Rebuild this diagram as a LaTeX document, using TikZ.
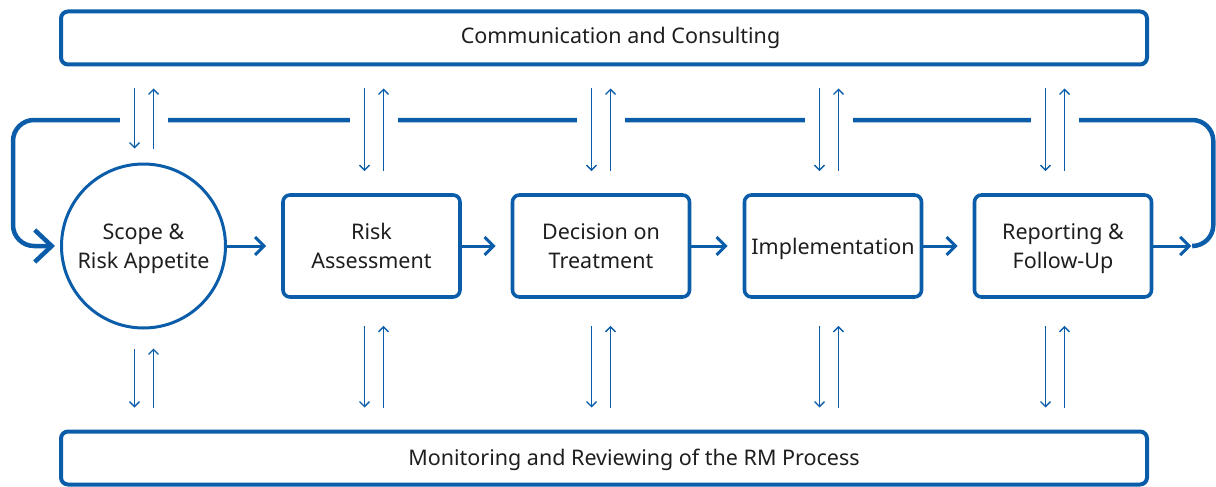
\documentclass[tikz,border=0pt]{standalone}
\usepackage{fontspec}
\setmainfont{Noto Sans}
\usetikzlibrary{arrows.meta}
\definecolor{rmblue}{RGB}{11,93,170}
\definecolor{rmtext}{RGB}{30,30,30}

\begin{document}
\begin{tikzpicture}[x=1pt,y=-1pt,
  every node/.style={text=rmtext,font=\fontsize{21.5}{29}\selectfont,align=center},
  band/.style={draw=rmblue,line width=4pt,rounded corners=7pt,minimum width=1086pt,minimum height=53pt},
  stepbox/.style={draw=rmblue,line width=3.6pt,rounded corners=7pt,minimum width=177pt,minimum height=102pt,inner sep=0pt,text depth=0pt},
  flow/.style={draw=rmblue,line width=3pt,-{Straight Barb[length=9pt,width=18pt]}},
  talk/.style={draw=rmblue,line width=1.4pt,-{Straight Barb[length=5pt,width=10pt]}},
  loopline/.style={draw=rmblue,line width=4.5pt,rounded corners=21pt}]
  \useasboundingbox (0,0) rectangle (1216,487);

  % bands
  \node[band,label={[xshift=16.5pt]center:Communication and Consulting}] (comm) at (604,38) {};
  \node[band,label={[xshift=30pt,yshift=-2pt]center:Monitoring and Reviewing of the RM Process}] (monitor) at (604,458) {};

  % process steps
  \node[circle,draw=rmblue,line width=3pt,minimum size=164pt,inner sep=0pt,text depth=0pt] (scope) at (143.5,246) {Scope \&\\Risk Appetite};
  \node[stepbox] (assess) at (371.5,246) {Risk\\Assessment};
  \node[stepbox] (decide) at (601,246) {Decision on\\Treatment};
  \node[stepbox] (impl) at (833,246) {Implementation};
  \node[stepbox] (report) at (1063,246) {Reporting \&\\Follow-Up};

  \foreach \a/\b in {scope/assess,assess/decide,decide/impl,impl/report}
    \draw[flow,shorten >=15pt] (\a) -- (\b);

  % return loop
  \coordinate (toprow) at (0,120);
  \coordinate (ret) at ([xshift=38pt]report.east);
  \coordinate (loopR) at ([xshift=22pt]ret);
  \coordinate (loopL) at ([xshift=-47pt]scope.west);
  \draw[flow] (report) -- (ret);
  \draw[loopline,-{Straight Barb[length=17pt,width=32pt]}] ([xshift=2pt]ret) -| (loopR |- toprow) -| (loopL) -- ([xshift=-5pt]scope.west);

  \foreach \n/\d/\s/\t in {scope/0.5/14/19,assess/2.5/22/27,decide/0/22/27,impl/-4/22/27,report/-8/22/27} {
    \coordinate (\n-c) at ([xshift=\d]\n.center);
    \draw[white,line width=8pt] ([xshift=-24pt]\n-c |- toprow) -- ([xshift=24pt]\n-c |- toprow);
    \draw[talk,shorten <=22pt,shorten >=\s pt] ([xshift=-9.5pt]\n-c |- comm.south) -- ([xshift=-9.5pt]\n-c |- \n.north);
    \draw[talk,shorten <=\s pt,shorten >=22pt] ([xshift=9.5pt]\n-c |- \n.north) -- ([xshift=9.5pt]\n-c |- comm.south);
    \draw[talk,shorten <=\t pt,shorten >=22pt] ([xshift=-9.5pt]\n-c |- \n.south) -- ([xshift=-9.5pt]\n-c |- monitor.north);
    \draw[talk,shorten <=22pt,shorten >=\t pt] ([xshift=9.5pt]\n-c |- monitor.north) -- ([xshift=9.5pt]\n-c |- \n.south);
  }
\end{tikzpicture}
\end{document}
